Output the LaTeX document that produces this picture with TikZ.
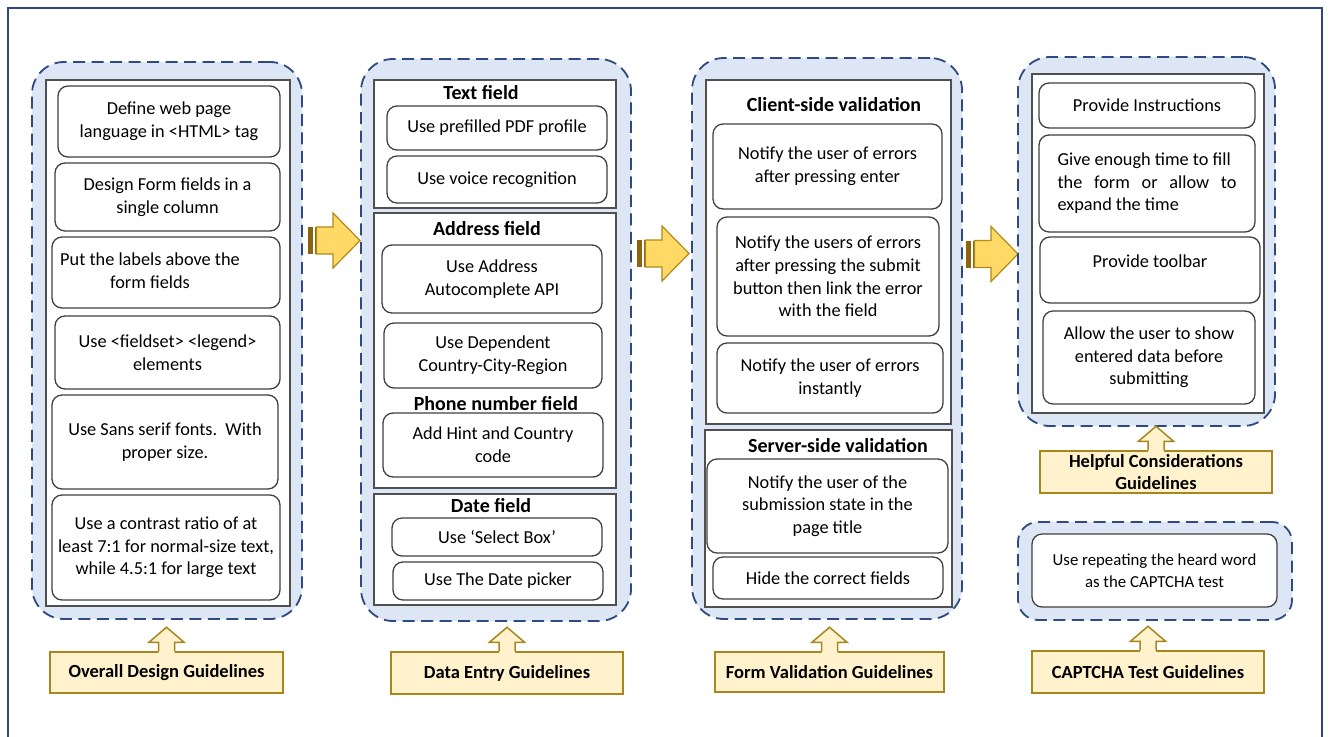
\documentclass[tikz,border=0pt]{standalone}
\usepackage{fontspec}
\setmainfont{Carlito}
\usetikzlibrary{shadows}

\definecolor{frameblue}{HTML}{2F4A7A}
\definecolor{panelfill}{HTML}{DCE6F4}
\definecolor{panelline}{HTML}{2E4A80}
\definecolor{boxline}{HTML}{404040}
\definecolor{sectline}{HTML}{505050}
\definecolor{goldfill}{HTML}{FFF2CC}
\definecolor{goldline}{HTML}{A8861E}
\definecolor{arrowfill}{HTML}{FFD966}
\definecolor{arrowline}{HTML}{B08A1A}
\definecolor{arrowdark}{HTML}{8C6410}

\tikzset{
  panel/.style={draw=panelline, fill=panelfill, line width=1.8pt,
    dash pattern=on 12pt off 6.5pt, rounded corners=32pt, inner sep=0pt},
  section/.style={draw=sectline, fill=white, line width=1.3pt, inner sep=0pt,
    drop shadow={shadow xshift=1.2pt, shadow yshift=-1.2pt, fill=black!35, opacity=1}},
  item/.style={draw=boxline, fill=white, line width=1.3pt, rounded corners=10pt,
    inner sep=0pt, align=center, font=\fontsize{18.3}{22.7}\selectfont},
  title/.style={font=\bfseries\fontsize{20}{22}\selectfont, inner sep=0pt},
  guide/.style={draw=goldline, fill=goldfill, line width=1.5pt, inner sep=0pt,
    align=center, font=\bfseries\fontsize{18.5}{22}\selectfont},
  blockbody/.style={draw=arrowline, fill=arrowfill, line width=1.2pt, line join=miter},
  upline/.style={draw=goldline, line width=1.5pt, line join=miter},
}

% rectangle-shaped node given by its corners: style, name, x1, y1, x2, y2, text
\newcommand\boxnode[7]{%
  \node[#1, minimum width={(#5-#3)*1pt}, minimum height={(#6-#4)*1pt}]
    (#2) at ({(#3+#5)/2},{(#4+#6)/2}) {#7};}

% striped block arrow pointing right: tail x, centre y
\newcommand\blockarrow[2]{%
  \begin{scope}[shift={(#1,#2)}]
    \fill[arrowdark] (0,-13.5) rectangle (5,13.5);
    \fill[arrowdark] (6.7,-13.5) rectangle (8.4,13.5);
    \draw[blockbody] (8.4,-13.5) -- (25,-13.5) -- (25,-27.5) -- (52,0)
      -- (25,27.5) -- (25,13.5) -- (8.4,13.5) -- cycle;
  \end{scope}}

% small upward arrow standing on the top edge of a guideline box
\newcommand\guidearrow[1]{%
  \fill[goldfill] ([xshift=-8pt,yshift=-1.6pt]#1.north) -- ++(0,-10.6) -- ++(-9.5,0)
    -- ++(17.5,-15) -- ++(17.5,15) -- ++(-9.5,0) -- ++(0,10.6) -- cycle;
  \draw[upline] (#1.north) ++(-8,0) -- ++(0,-9) -- ++(-9.5,0) -- ++(17.5,-15)
    -- ++(17.5,15) -- ++(-9.5,0) -- ++(0,9);}

\begin{document}
\begin{tikzpicture}[x=1pt, y=-1pt]
\clip (0,0) rectangle (1329,736);
\fill[white] (0,0) rectangle (1329,736);
\draw[frameblue, line width=1.5pt] (8,8) rectangle (1322,760);

% ---------- Overall design ----------
\boxnode{panel}{P1}{32}{62}{302}{619}{}
\boxnode{section}{S1}{46}{80}{290}{606}{}
\boxnode{item}{c1a}{58}{86}{280}{157}{Define web page\\language in <HTML> tag}
\boxnode{item}{c1b}{55}{163}{280}{231}{Design Form fields in a\\single column}
\boxnode{item}{c1c}{52}{237}{280}{308}{\begin{tabular}{@{}c@{}}Put the labels above the\\form fields\end{tabular}\hspace*{32pt}}
\boxnode{item}{c1d}{55}{316}{280}{389}{Use <fieldset> <legend>\\elements}
\boxnode{item}{c1e}{52}{395}{278}{489}{Use Sans serif fonts.\ \ With\\proper size.}
\boxnode{item}{c1f}{52}{495}{280}{600}{Use a contrast ratio of at\\least 7:1 for normal-size text,\\while 4.5:1 for large text}
\boxnode{guide}{L1}{50}{652}{283}{693}{Overall Design Guidelines}
\guidearrow{L1}

\blockarrow{308}{240.5}

% ---------- Data entry ----------
\boxnode{panel}{P2}{361}{59}{631}{621}{}
\boxnode{section}{S2a}{374}{80}{616}{208}{}
\node[title] (t2a) at (481,93) {Text field};
\boxnode{item}{c2a}{387}{106}{607}{150}{Use prefilled PDF profile}
\boxnode{item}{c2b}{387}{156}{607}{203}{Use voice recognition}
\boxnode{section}{S2b}{374}{213}{616}{488}{}
\node[title] (t2b) at (487,229) {Address field};
\boxnode{item}{c2c}{382}{245}{602}{313}{Use Address\\Autocomplete API}
\boxnode{item}{c2d}{384}{323}{602}{388}{Use Dependent\\Country-City-Region}
\node[title] (t2c) at (496,404) {Phone number field};
\boxnode{item}{c2e}{383}{413}{603}{477}{Add Hint and Country\\code}
\boxnode{section}{S2c}{374}{494}{616}{605}{}
\node[title] (t2d) at (491,506) {Date field};
\boxnode{item}{c2f}{392}{518}{602}{556}{Use ‘Select Box’}
\boxnode{item}{c2g}{393}{562}{603}{600}{Use The Date picker}
\boxnode{guide}{L2}{391}{652}{623}{694}{Data Entry Guidelines}
\guidearrow{L2}

\blockarrow{637}{253.5}

% ---------- Form validation ----------
\boxnode{panel}{P3}{692}{58}{962}{619}{}
\boxnode{section}{S3a}{706}{80}{951}{424}{}
\node[title] (t3a) at (834,105) {Client-side validation};
\boxnode{item}{c3a}{713}{124}{942}{209}{Notify the user of errors\\after pressing enter}
\boxnode{item}{c3b}{717}{217}{939}{336}{Notify the users of errors\\after pressing the submit\\button then link the error\\with the field}
\boxnode{item}{c3c}{717}{343}{943}{413}{Notify the user of errors\\instantly}
\boxnode{section}{S3b}{705}{430}{952}{607}{}
\node[title] (t3b) at (838,446) {Server-side validation};
\boxnode{item}{c3d}{707}{459}{948}{553}{Notify the user of the\\submission state in the\\page title}
\boxnode{item}{c3e}{713}{557}{943}{599}{Hide the correct fields}
\boxnode{guide}{L3}{715}{652}{944}{692}{Form Validation Guidelines}
\guidearrow{L3}

\blockarrow{966}{254}

% ---------- Helpful considerations ----------
\boxnode{panel}{P4}{1018}{57}{1275}{426}{}
\boxnode{section}{S4}{1032}{74}{1264}{413}{}
\boxnode{item}{c4a}{1039}{83}{1255}{128}{Provide Instructions}
\boxnode{item}{c4b}{1039}{135}{1255}{232}{\begin{tabular}{@{}l@{}}Give enough time to fill\\\makebox[179pt][s]{the form or allow to}\\expand the time\end{tabular}}
\boxnode{item, text height=12pt, text depth=18pt}{c4c}{1040}{237}{1260}{303}{Provide toolbar}
\boxnode{item}{c4d}{1043}{311}{1255}{404}{Allow the user to show\\entered data before\\submitting}
\boxnode{guide}{L4}{1040}{451}{1272}{493}{Helpful Considerations\\Guidelines}
\guidearrow{L4}

% ---------- CAPTCHA ----------
\boxnode{panel, rounded corners=20pt}{P5}{1018}{522}{1292}{620}{}
\boxnode{item, font=\fontsize{16.8}{22}\selectfont}{c5a}{1032}{534}{1277}{607}{Use repeating the heard word\\as the CAPTCHA test}
\boxnode{guide}{L5}{1032}{651}{1264}{693}{CAPTCHA Test Guidelines}
\guidearrow{L5}
\end{tikzpicture}
\end{document}
